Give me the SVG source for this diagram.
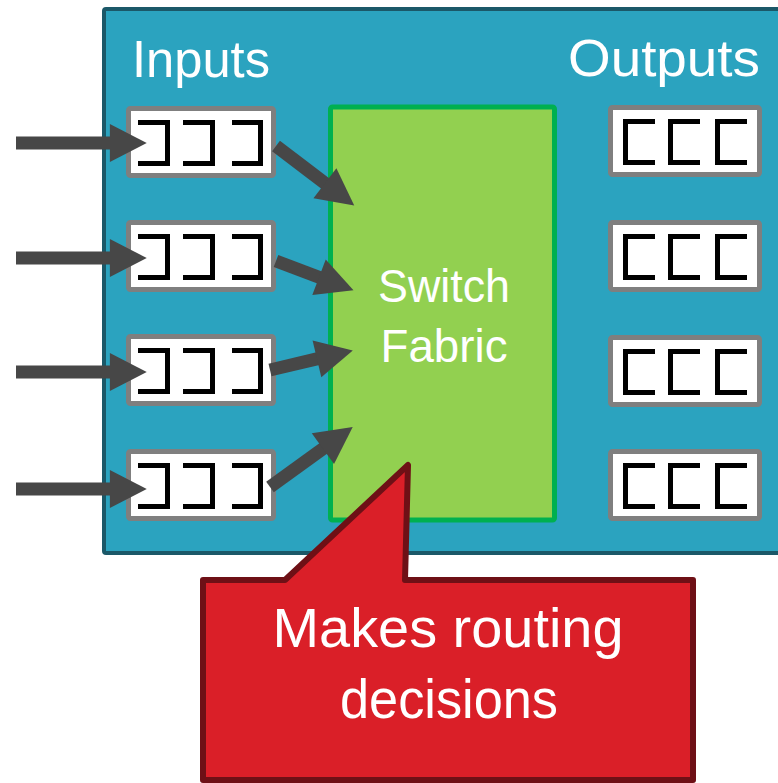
<svg xmlns="http://www.w3.org/2000/svg" xmlns:xlink="http://www.w3.org/1999/xlink" width="778" height="783" viewBox="0 0 778 783">
  <style>
    .label { font-family: "Liberation Sans", Arial, sans-serif; fill: #ffffff; }
    .buf { fill: #ffffff; stroke: #7f7f7f; stroke-width: 5; }
    .slot { fill: none; stroke: #000000; stroke-width: 5; stroke-linejoin: miter; }
    .wire { stroke: #474747; stroke-width: 13; fill: none; }
  </style>
  <defs>
    <marker id="head" markerUnits="userSpaceOnUse" markerWidth="40" markerHeight="40" viewBox="0 -19 37 38" refX="2" refY="0" orient="auto">
      <path d="M0,-18 L35,0 L0,18 Z" fill="#474747"/>
    </marker>
    <!-- input queue: three slots open to the left -->
    <g id="inBuf">
      <rect class="buf" x="2.5" y="2.5" width="145" height="67" rx="2"/>
      <path class="slot" d="M12,16.5 H41.5 V57.5 H12"/>
      <path class="slot" d="M57,16.5 H86.5 V57.5 H57"/>
      <path class="slot" d="M106,16.5 H134.5 V57.5 H106"/>
    </g>
    <!-- output queue: three slots open to the right -->
    <g id="outBuf">
      <rect class="buf" x="2.5" y="2.5" width="149" height="67" rx="2"/>
      <path class="slot" d="M47,16.5 H17.5 V57.5 H47"/>
      <path class="slot" d="M92,16.5 H62.5 V57.5 H92"/>
      <path class="slot" d="M139,16.5 H109.5 V57.5 H139"/>
    </g>
  </defs>

  <rect width="778" height="783" fill="#ffffff"/>

  <!-- router chassis -->
  <g id="router">
    <rect x="104" y="9" width="700" height="544" rx="2" fill="#2ba3bf" stroke="#1b5868" stroke-width="4"/>
    <text class="label" x="132" y="77" font-size="52" textLength="138" lengthAdjust="spacingAndGlyphs">Inputs</text>
    <text class="label" x="568" y="76" font-size="52" textLength="192" lengthAdjust="spacingAndGlyphs">Outputs</text>
  </g>

  <!-- switch fabric -->
  <g id="fabric">
    <rect x="330.5" y="107" width="224" height="413" rx="2" fill="#92d050" stroke="#00b050" stroke-width="5"/>
    <text class="label" x="444" y="302" font-size="46" text-anchor="middle" textLength="132" lengthAdjust="spacingAndGlyphs">Switch</text>
    <text class="label" x="444" y="362" font-size="46" text-anchor="middle" textLength="127" lengthAdjust="spacingAndGlyphs">Fabric</text>
  </g>

  <!-- input ports -->
  <g id="in1" transform="translate(126,106)"><use xlink:href="#inBuf" href="#inBuf"/></g>
  <g id="in2" transform="translate(126,220)"><use xlink:href="#inBuf" href="#inBuf"/></g>
  <g id="in3" transform="translate(126,334)"><use xlink:href="#inBuf" href="#inBuf"/></g>
  <g id="in4" transform="translate(126,449)"><use xlink:href="#inBuf" href="#inBuf"/></g>

  <!-- output ports -->
  <g id="out1" transform="translate(608,105)"><use xlink:href="#outBuf" href="#outBuf"/></g>
  <g id="out2" transform="translate(608,220)"><use xlink:href="#outBuf" href="#outBuf"/></g>
  <g id="out3" transform="translate(608,335)"><use xlink:href="#outBuf" href="#outBuf"/></g>
  <g id="out4" transform="translate(608,449)"><use xlink:href="#outBuf" href="#outBuf"/></g>

  <!-- packet flow -->
  <g id="connectors">
    <line class="wire" x1="16" y1="143" x2="112" y2="143" marker-end="url(#head)"/>
    <line class="wire" x1="16" y1="258" x2="112" y2="258" marker-end="url(#head)"/>
    <line class="wire" x1="16" y1="372" x2="112" y2="372" marker-end="url(#head)"/>
    <line class="wire" x1="16" y1="489" x2="112" y2="489" marker-end="url(#head)"/>
    <line class="wire" x1="276" y1="146" x2="326.6" y2="184.5" marker-end="url(#head)"/>
    <line class="wire" x1="276" y1="261" x2="321" y2="278" marker-end="url(#head)"/>
    <line class="wire" x1="270" y1="370" x2="319" y2="358.4" marker-end="url(#head)"/>
    <line class="wire" x1="270" y1="487" x2="324.6" y2="447.4" marker-end="url(#head)"/>
  </g>

  <!-- callout -->
  <g id="callout">
    <path d="M203,580 H285 L408,465 L405,580 H693 V780 H203 Z" fill="#da1f28" stroke="#6e1016" stroke-width="6" stroke-linejoin="round"/>
    <text class="label" x="448" y="647" font-size="55" text-anchor="middle" textLength="351" lengthAdjust="spacingAndGlyphs">Makes routing</text>
    <text class="label" x="449" y="718" font-size="55" text-anchor="middle" textLength="218" lengthAdjust="spacingAndGlyphs">decisions</text>
  </g>
</svg>
